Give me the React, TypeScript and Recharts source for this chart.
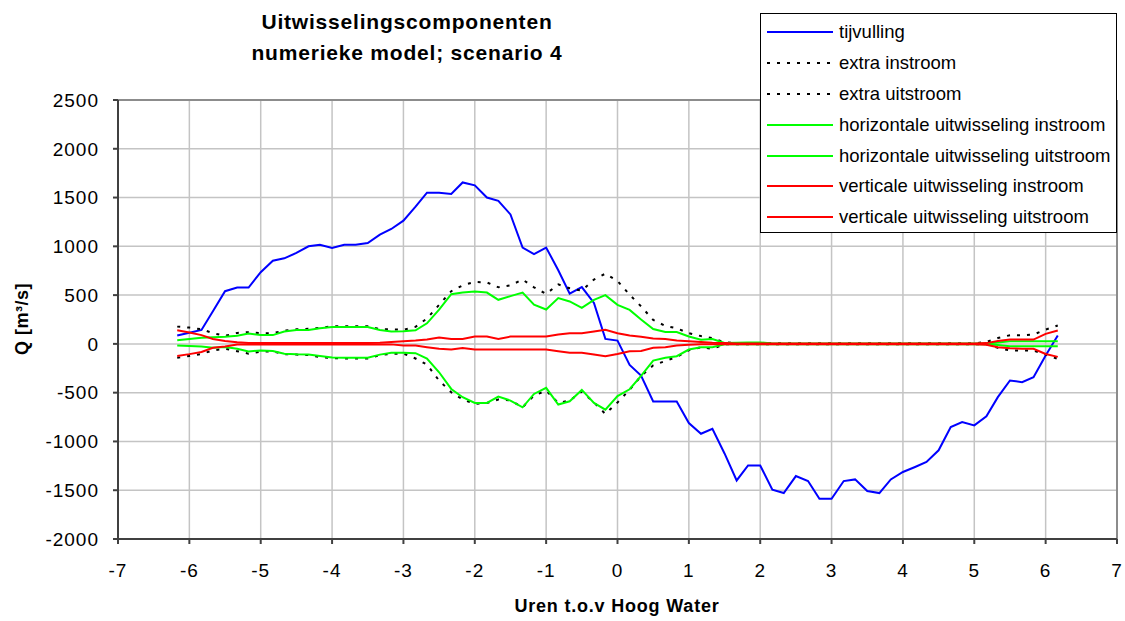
import React from 'react';
import { LineChart, Line, XAxis, YAxis, CartesianGrid, ReferenceLine } from 'recharts';

// uren t.o.v. hoog water (10-minuten stappen)
const hours = [
  -6.17, -6.0, -5.83, -5.67, -5.5, -5.33, -5.17, -5.0, -4.83, -4.67, -4.5, -4.33, -4.17,
  -4.0, -3.83, -3.67, -3.5, -3.33, -3.17, -3.0, -2.83, -2.67, -2.5, -2.33, -2.17,
  -2.0, -1.83, -1.67, -1.5, -1.33, -1.17, -1.0, -0.83, -0.67, -0.5, -0.33, -0.17,
  0.0, 0.17, 0.33, 0.5, 0.67, 0.83, 1.0, 1.17, 1.33, 1.5, 1.67, 1.83,
  2.0, 2.17, 2.33, 2.5, 2.67, 2.83, 3.0, 3.17, 3.33, 3.5, 3.67, 3.83,
  4.0, 4.17, 4.33, 4.5, 4.67, 4.83, 5.0, 5.17, 5.33, 5.5, 5.67, 5.83, 6.0, 6.17,
];

const tijvulling = [
  85, 115, 143, 335, 540, 577, 577, 735, 853, 877, 932, 1000, 1017,
  983, 1017, 1017, 1034, 1120, 1178, 1263, 1407, 1550, 1550, 1537, 1655,
  1625, 1500, 1466, 1327, 988, 921, 988, 755, 515, 582, 420, 51,
  34, -215, -324, -590, -590, -590, -812, -921, -870, -1123, -1400, -1246,
  -1246, -1495, -1529, -1355, -1406, -1587, -1587, -1406, -1389, -1508, -1529, -1389,
  -1313, -1262, -1211, -1091, -853, -801, -835, -743, -546, -375, -392, -341, -120, 85,
];

const extraIn = [
  177, 167, 150, 110, 83, 112, 120, 110, 110, 135, 150, 155, 163,
  180, 180, 180, 180, 150, 150, 145, 175, 260, 400, 540, 600,
  636, 630, 580, 600, 660, 580, 512, 610, 570, 545, 660, 720,
  645, 505, 385, 245, 185, 160, 110, 80, 58, 16, 10, 6,
  6, 6, 6, 6, 6, 6, 6, 6, 6, 6, 6, 6,
  6, 6, 6, 6, 6, 6, 6, 20, 60, 89, 89, 95, 147, 188,
];

const extraUit = [
  -143, -123, -103, -67, -50, -75, -100, -80, -77, -105, -110, -115, -135,
  -145, -150, -150, -150, -117, -100, -100, -150, -212, -376, -496, -570,
  -616, -605, -570, -580, -650, -530, -479, -605, -581, -489, -600, -718,
  -600, -470, -330, -220, -175, -135, -65, -34, -51, -3, -3, -3,
  -3, -3, -3, -3, -3, -3, -3, -3, -3, -3, -3, -3,
  -3, -3, -3, -3, -3, -3, -3, -3, -41, -68, -68, -68, -109, -154,
];

const horizIn = [
  37, 50, 63, 68, 73, 83, 107, 90, 90, 127, 143, 143, 160,
  173, 173, 173, 173, 143, 127, 130, 140, 211, 352, 509, 526,
  536, 526, 452, 490, 526, 402, 352, 469, 435, 369, 452, 500,
  400, 348, 250, 153, 122, 122, 76, 43, 49, 10, 12, 15,
  15, 5, 3, 3, 3, 3, 3, 3, 3, 3, 3, 3,
  3, 3, 3, 3, 3, 3, 3, 3, 15, 27, 27, 27, 27, 27,
];

const horizUit = [
  -17, -22, -27, -40, -33, -50, -77, -67, -73, -100, -107, -110, -123,
  -140, -143, -143, -143, -110, -90, -90, -95, -150, -291, -462, -547,
  -605, -605, -540, -581, -650, -513, -451, -622, -588, -472, -605, -674,
  -535, -465, -328, -171, -143, -126, -58, -34, -34, -3, -3, -3,
  -3, -3, -3, -3, -3, -3, -3, -3, -3, -3, -3, -3,
  -3, -3, -3, -3, -3, -3, -3, -3, -12, -24, -24, -24, -24, -24,
];

const vertIn = [
  140, 117, 90, 50, 30, 17, 8, 8, 8, 8, 8, 8, 8,
  8, 8, 8, 8, 12, 20, 27, 34, 45, 65, 51, 51,
  75, 75, 51, 75, 75, 75, 75, 96, 109, 109, 126, 144,
  109, 85, 72, 55, 50, 34, 27, 20, 12, 8, 5, 5,
  5, 5, 5, 5, 5, 5, 5, 5, 5, 5, 5, 5,
  5, 5, 5, 5, 5, 5, 5, 8, 30, 44, 44, 44, 103, 137,
];

const vertUit = [
  -123, -105, -83, -40, -27, -7, -5, -5, -5, -5, -5, -5, -5,
  -5, -5, -5, -5, -5, -5, -17, -17, -34, -51, -58, -41,
  -58, -58, -58, -58, -58, -58, -58, -75, -92, -92, -109, -126,
  -103, -75, -72, -40, -34, -17, -8, -4, -4, -4, -4, -4,
  -4, -4, -4, -4, -4, -4, -4, -4, -4, -4, -4, -4,
  -4, -4, -4, -4, -4, -4, -4, -8, -35, -45, -50, -51, -103, -133,
];

const xTicks = [-7, -6, -5, -4, -3, -2, -1, 0, 1, 2, 3, 4, 5, 6, 7];
const yTicks = [-2000, -1500, -1000, -500, 0, 500, 1000, 1500, 2000, 2500];

const rows = hours.map((t, i) => ({
  t,
  tijvulling: tijvulling[i],
  extraIn: extraIn[i],
  extraUit: extraUit[i],
  horizIn: horizIn[i],
  horizUit: horizUit[i],
  vertIn: vertIn[i],
  vertUit: vertUit[i],
}));

const series = [
  { key: 'tijvulling', name: 'tijvulling', color: '#0000ff', dash: undefined },
  { key: 'extraIn', name: 'extra instroom', color: '#000000', dash: '3 7' },
  { key: 'extraUit', name: 'extra uitstroom', color: '#000000', dash: '3 7' },
  { key: 'horizIn', name: 'horizontale uitwisseling instroom', color: '#00ff00', dash: undefined },
  { key: 'horizUit', name: 'horizontale uitwisseling uitstroom', color: '#00ff00', dash: undefined },
  { key: 'vertIn', name: 'verticale uitwisseling instroom', color: '#ff0000', dash: undefined },
  { key: 'vertUit', name: 'verticale uitwisseling uitstroom', color: '#ff0000', dash: undefined },
];

const FONT = '"Liberation Sans", Arial, Helvetica, sans-serif';
const tickStyle = { fill: '#000', fontSize: 19, fontFamily: FONT, letterSpacing: 1 };

export default function App() {
  return (
    <div style={{ position: 'absolute', left: 0, top: 0, width: 1125, height: 621, background: '#fff', fontFamily: FONT }}>
      <LineChart width={1125} height={621} data={rows} margin={{ top: 100, right: 8, left: 58, bottom: 52 }}>
        <CartesianGrid stroke="#c4c4c4" strokeWidth={1.5} />
        <XAxis
          dataKey="t"
          type="number"
          domain={[-7, 7]}
          ticks={xTicks}
          height={30}
          tick={tickStyle}
          tickSize={5}
          tickMargin={20}
          stroke="#404040"
          strokeWidth={2}
        />
        <YAxis
          type="number"
          domain={[-2000, 2500]}
          ticks={yTicks}
          width={60}
          tick={tickStyle}
          tickSize={5}
          tickMargin={14}
          stroke="#404040"
          strokeWidth={2}
        />
        <ReferenceLine y={2500} stroke="#8c8c8c" strokeWidth={2} />
        <ReferenceLine x={7} stroke="#8c8c8c" strokeWidth={2} />
        {series.map((s) => (
          <Line
            key={s.key}
            dataKey={s.key}
            name={s.name}
            type="linear"
            stroke={s.color}
            strokeWidth={2}
            strokeDasharray={s.dash}
            dot={false}
            activeDot={false}
            isAnimationActive={false}
          />
        ))}
      </LineChart>

      {/* titel */}
      <div style={{ position: 'absolute', left: 207, top: 6, width: 400, textAlign: 'center', fontWeight: 'bold', fontSize: 21, letterSpacing: 0.8, lineHeight: '31px' }}>
        <div>Uitwisselingscomponenten</div>
        <div>numerieke model; scenario 4</div>
      </div>

      {/* as-titels */}
      <div style={{ position: 'absolute', left: 317, top: 596, width: 600, textAlign: 'center', fontWeight: 'bold', fontSize: 18, letterSpacing: 0.8 }}>
        Uren t.o.v Hoog Water
      </div>
      <div
        style={{
          position: 'absolute', left: 22 - 60, top: 319 - 11, width: 120, height: 22, lineHeight: '22px',
          textAlign: 'center', fontWeight: 'bold', fontSize: 18, letterSpacing: 0.5, transform: 'rotate(-90deg)',
        }}
      >
        Q [m³/s]
      </div>

      {/* legenda */}
      <div
        style={{
          position: 'absolute', left: 760, top: 13, width: 357, height: 220, boxSizing: 'border-box',
          background: '#fff', border: '1px solid #000', paddingTop: 3,
        }}
      >
        {series.map((s) => (
          <div key={s.key} style={{ display: 'flex', alignItems: 'center', height: 30.8, fontSize: 18.5 }}>
            <svg width={72} height={10} style={{ marginLeft: 6, flexShrink: 0 }}>
              <line x1={0} y1={5} x2={66} y2={5} stroke={s.color} strokeWidth={2} strokeDasharray={s.dash} />
            </svg>
            <span style={{ whiteSpace: 'nowrap' }}>{s.name}</span>
          </div>
        ))}
      </div>
    </div>
  );
}
